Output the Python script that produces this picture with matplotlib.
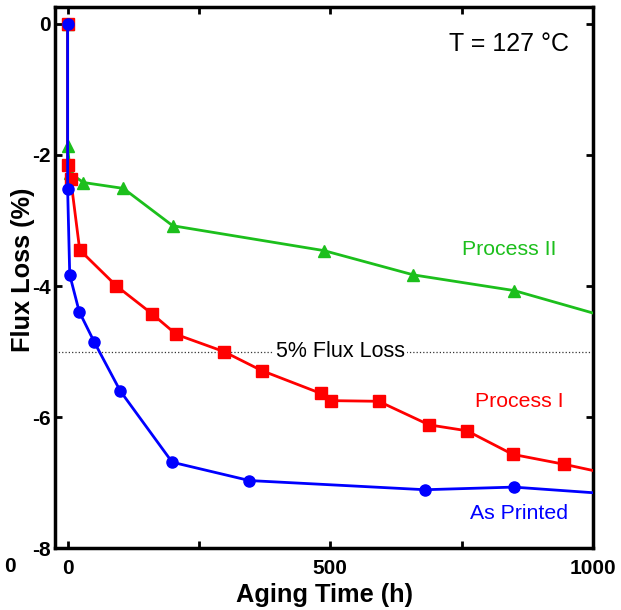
import matplotlib.pyplot as plt

plt.rcParams['font.family'] = ['Liberation Sans', 'DejaVu Sans']

# Aging time (h) and flux loss (%)
printed_time = [0, 0, 4, 22, 51, 100, 199, 346, 680, 849, 1025]
printed_loss = [0, -2.52, -3.83, -4.39, -4.86, -5.60, -6.69, -6.97, -7.11, -7.07, -7.17]

process1_time = [0, 0, 6, 23, 93, 160, 207, 297, 369, 482, 501, 592, 688, 760, 847, 944, 1025]
process1_loss = [0, -2.15, -2.37, -3.45, -4.00, -4.42, -4.74, -5.00, -5.29,
                 -5.64, -5.75, -5.76, -6.12, -6.21, -6.57, -6.72, -6.86]

process2_time = [0, 0, 5, 30, 106, 200, 488, 658, 850, 1025]
process2_loss = [0, -1.87, -2.28, -2.42, -2.51, -3.08, -3.46, -3.83, -4.07, -4.47]

threshold = -5.0

BLUE = '#0000ff'
RED = '#ff0000'
GREEN = '#1cbf1c'


def main():
    fig = plt.figure(figsize=(6.21, 6.10), dpi=100)
    ax = fig.add_axes([0.0886, 0.1016, 0.8664, 0.887])

    ax.axhline(threshold, color='#333333', lw=0.9, ls=':', zorder=1)
    ax.text(519, threshold, '5% Flux Loss', fontsize=15.5, ha='center', va='center',
            bbox=dict(facecolor='white', edgecolor='none', pad=1.5), zorder=2)

    ax.plot(process2_time, process2_loss, color=GREEN, lw=2, marker='^', ms=8, zorder=3)
    ax.plot(process1_time, process1_loss, color=RED, lw=2, marker='s', ms=8, zorder=4)
    ax.plot(printed_time, printed_loss, color=BLUE, lw=2, marker='o', ms=8, zorder=5)

    ax.text(840, -3.45, 'Process II', color=GREEN, fontsize=15.3, ha='center', va='center')
    ax.text(860, -5.77, 'Process I', color=RED, fontsize=15.3, ha='center', va='center')
    ax.text(859, -7.47, 'As Printed', color=BLUE, fontsize=15.3, ha='center', va='center')
    ax.text(840, -0.30, 'T = 127 °C', color='black', fontsize=18, ha='center', va='center')

    ax.set_xlim(-24, 1000)
    ax.set_ylim(-8, 0.26)
    ax.set_xticks([0, 250, 500, 750, 1000], ['0', '', '500', '', '1000'])
    ax.set_yticks([0, -2, -4, -6, -8], ['0', '-2', '-4', '-6', '-8'])
    ax.tick_params(direction='in', top=True, right=True, length=5, width=2,
                   labelsize=15)
    ax.tick_params(axis='x', pad=8)
    ax.tick_params(axis='y', pad=3)
    for lbl in ax.get_xticklabels() + ax.get_yticklabels():
        lbl.set_fontweight('bold')
    for sp in ax.spines.values():
        sp.set_linewidth(2.5)

    ax.set_xlabel('Aging Time (h)', fontsize=18.3, fontweight='bold')
    ax.set_ylabel('Flux Loss (%)', fontsize=18.3, fontweight='bold')
    ax.xaxis.set_label_coords(0.50, -0.064)
    ax.yaxis.set_label_coords(-0.037, 0.514)

    # stray tick label left over from a neighbouring panel
    fig.text(10 / 621, 1 - 566 / 610, '0', fontsize=15, fontweight='bold',
             ha='center', va='center')

    fig.savefig('out.png', dpi=100)


if __name__ == '__main__':
    main()
